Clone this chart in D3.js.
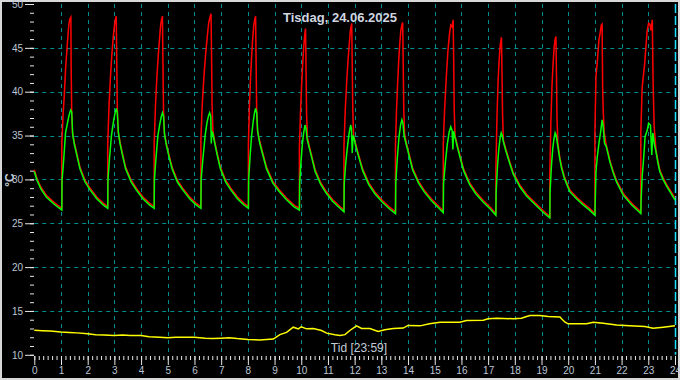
<!DOCTYPE html>
<html><head><meta charset="utf-8">
<script src="https://cdn.jsdelivr.net/npm/d3@7"></script>
<style>html,body{margin:0;padding:0;background:#000;}svg{display:block;}</style>
</head><body>
<svg id="c" width="680" height="380"></svg>
<script>
const titleText = "Tisdag, 24.06.2025";
const xLabel = "Tid [23:59]";
const yLabel = "°C";
const xTicks = d3.range(0, 25);
const yMajor = [10, 15, 20, 25, 30, 35, 40, 45, 50];

// Red series [hour, °C]
const redSeries = [
[0,31.1],[0.1,30.1],[0.25,29.1],[0.45,28.2],[0.7,27.5],[0.9,27.0],[1.03,26.7],
[1.03,34.1],[1.08,37.5],[1.12,39.4],[1.17,42.5],[1.22,44.7],[1.27,46.8],[1.3,47.8],[1.33,48.3],[1.37,48.5],[1.38,43.0],[1.4,37.9],[1.43,35.3],
[1.5,34.2],[1.59,33.0],[1.71,31.4],[1.9,29.9],[2.09,29.0],[2.34,28.0],[2.58,27.3],[2.75,26.9],
[2.75,34.0],[2.8,38.5],[2.85,41.5],[2.9,44.0],[2.95,46.0],[3.0,47.5],[3.04,48.3],[3.07,48.6],[3.09,43.0],[3.11,38.0],[3.14,35.5],
[3.21,34.3],[3.3,33.0],[3.42,31.4],[3.63,29.9],[3.82,29.0],[4.07,28.0],[4.31,27.3],[4.49,26.9],
[4.49,34.0],[4.54,38.5],[4.59,41.5],[4.64,44.0],[4.69,46.0],[4.73,47.5],[4.77,48.3],[4.8,48.6],[4.82,43.0],[4.84,38.0],[4.87,35.3],
[4.94,34.2],[5.03,33.0],[5.16,31.4],[5.36,29.9],[5.56,29.0],[5.82,28.0],[6.06,27.3],[6.24,26.9],
[6.24,34.5],[6.29,38.5],[6.35,41.5],[6.41,44.0],[6.47,46.0],[6.53,47.8],[6.58,48.5],[6.62,48.9],[6.64,44.0],[6.66,38.5],[6.69,35.5],
[6.76,34.3],[6.85,33.0],[6.97,31.4],[7.17,29.9],[7.36,29.0],[7.61,28.0],[7.85,27.3],[8.02,26.9],
[8.02,34.0],[8.06,38.5],[8.1,41.5],[8.14,44.0],[8.18,46.0],[8.22,47.5],[8.26,48.3],[8.29,48.6],[8.31,43.0],[8.33,38.0],[8.36,35.6],
[8.44,34.4],[8.55,33.1],[8.7,31.4],[8.93,29.8],[9.15,28.9],[9.44,27.9],[9.72,27.1],[9.93,26.7],
[9.93,33.5],[9.97,37.5],[10.01,40.5],[10.05,43.0],[10.09,45.0],[10.13,46.5],[10.16,47.2],[10.18,42.5],[10.2,37.5],[10.23,34.8],
[10.3,33.8],[10.4,32.6],[10.52,31.1],[10.72,29.7],[10.92,28.7],[11.17,27.7],[11.42,27.0],[11.6,26.5],
[11.6,33.8],[11.65,38.0],[11.7,41.0],[11.75,43.5],[11.8,45.5],[11.84,47.0],[11.89,47.8],[11.91,43.0],[11.93,38.0],[11.96,35.0],
[12.04,34.0],[12.15,32.8],[12.3,31.2],[12.53,29.6],[12.75,28.6],[13.04,27.6],[13.32,26.8],[13.53,26.3],
[13.53,34.0],[13.57,38.0],[13.61,41.0],[13.65,43.5],[13.69,45.5],[13.73,47.0],[13.77,47.6],[13.8,47.9],[13.82,43.0],[13.84,38.0],[13.87,35.2],
[13.94,34.1],[14.04,32.9],[14.17,31.3],[14.39,29.8],[14.6,28.8],[14.87,27.8],[15.13,27.0],[15.32,26.4],
[15.32,34.0],[15.37,38.0],[15.43,41.5],[15.49,44.5],[15.55,46.5],[15.6,47.6],[15.65,47.4],[15.69,48.2],[15.71,43.5],[15.73,38.0],[15.76,35.0],
[15.84,34.0],[15.94,32.8],[16.08,31.2],[16.31,29.6],[16.53,28.6],[16.82,27.6],[17.09,26.8],[17.29,26.1],
[17.29,31.0],[17.33,37.0],[17.37,41.0],[17.41,43.5],[17.45,45.3],[17.5,46.2],[17.52,42.0],[17.54,37.5],[17.57,34.5],
[17.66,33.5],[17.78,32.3],[17.94,30.8],[18.2,29.3],[18.44,28.3],[18.77,27.3],[19.08,26.4],[19.31,25.75],
[19.31,30.5],[19.35,36.5],[19.39,40.5],[19.43,43.0],[19.47,45.0],[19.51,46.0],[19.54,46.3],[19.56,42.0],[19.58,37.0],[19.61,34.2],
[19.68,32.6],[19.75,31.5],[19.85,30.4],[19.95,29.6],[20.06,28.8],[20.31,28.0],[20.56,27.3],[20.8,26.7],[21.0,26.1],
[21.0,35.4],[21.04,41.7],[21.1,43.8],[21.15,45.9],[21.19,46.6],[21.24,47.6],[21.27,47.7],[21.29,40.4],[21.31,37.9],[21.35,35.3],
[21.42,34.0],[21.5,33.0],[21.56,32.2],[21.68,31.0],[21.81,29.9],[22.06,28.4],[22.37,27.3],[22.72,26.3],
[22.72,35.4],[22.77,40.5],[22.87,43.4],[22.91,45.1],[22.96,47.0],[23.01,47.8],[23.06,47.7],[23.1,47.0],[23.15,48.2],[23.18,40.9],[23.22,36.0],[23.29,33.3],
[23.36,32.1],[23.43,31.1],[23.55,30.2],[23.69,29.4],[23.85,28.6],[24,27.85]
];

// Green series [hour, °C]
const greenSeries = [
[0,30.9],[0.1,29.9],[0.25,28.9],[0.45,28.0],[0.7,27.3],[0.9,26.8],[1.03,26.5],
[1.04,29.9],[1.1,32.2],[1.17,35.3],[1.24,36.4],[1.3,37.3],[1.36,37.9],[1.4,37.7],[1.44,35.1],
[1.5,34.0],[1.59,32.8],[1.71,31.2],[1.9,29.7],[2.09,28.8],[2.34,27.8],[2.58,27.1],[2.75,26.7],
[2.76,30.0],[2.82,32.5],[2.89,35.0],[2.96,36.5],[3.02,37.5],[3.07,38.1],[3.11,37.6],[3.15,35.3],
[3.21,34.1],[3.3,32.8],[3.42,31.2],[3.63,29.7],[3.82,28.8],[4.07,27.8],[4.31,27.1],[4.49,26.7],
[4.5,30.0],[4.56,32.5],[4.63,35.0],[4.7,36.3],[4.76,37.2],[4.8,37.6],[4.84,37.2],[4.88,35.1],
[4.94,34.0],[5.03,32.8],[5.16,31.2],[5.36,29.7],[5.56,28.8],[5.82,27.8],[6.06,27.1],[6.24,26.7],
[6.25,30.0],[6.32,32.5],[6.4,35.0],[6.47,36.5],[6.53,37.3],[6.57,37.6],[6.61,37.2],[6.63,34.1],[6.65,35.5],[6.69,35.2],
[6.76,34.1],[6.85,32.8],[6.97,31.2],[7.17,29.7],[7.36,28.8],[7.61,27.8],[7.85,27.1],[8.02,26.7],
[8.03,30.0],[8.08,32.5],[8.14,35.0],[8.2,36.6],[8.25,37.6],[8.29,38.1],[8.33,37.6],[8.37,35.4],
[8.44,34.2],[8.55,32.9],[8.7,31.2],[8.93,29.6],[9.15,28.7],[9.44,27.7],[9.72,26.9],[9.93,26.5],
[9.94,29.5],[9.99,32.0],[10.04,34.0],[10.09,35.3],[10.14,36.2],[10.18,35.8],[10.22,34.6],
[10.3,33.6],[10.4,32.4],[10.52,30.9],[10.72,29.5],[10.92,28.5],[11.17,27.5],[11.42,26.8],[11.6,26.3],
[11.61,29.5],[11.67,32.0],[11.74,34.0],[11.8,35.4],[11.85,36.2],[11.88,35.8],[11.91,33.0],[11.94,35.0],[11.97,34.8],
[12.04,33.8],[12.15,32.6],[12.3,31.0],[12.53,29.4],[12.75,28.4],[13.04,27.4],[13.32,26.6],[13.53,26.1],
[13.54,29.5],[13.6,32.5],[13.66,34.8],[13.72,36.2],[13.77,36.8],[13.81,36.4],[13.85,35.0],
[13.94,33.9],[14.04,32.7],[14.17,31.1],[14.39,29.6],[14.6,28.6],[14.87,27.6],[15.13,26.8],[15.32,26.2],
[15.33,29.5],[15.4,32.0],[15.47,34.0],[15.54,35.4],[15.6,36.0],[15.65,35.6],[15.68,33.4],[15.71,35.5],[15.76,34.8],
[15.84,33.8],[15.94,32.6],[16.08,31.0],[16.31,29.4],[16.53,28.4],[16.82,27.4],[17.09,26.6],[17.29,25.9],
[17.3,28.5],[17.35,31.5],[17.4,33.5],[17.45,34.7],[17.49,35.3],[17.53,35.0],[17.57,34.3],
[17.66,33.3],[17.78,32.1],[17.94,30.6],[18.2,29.1],[18.44,28.1],[18.77,27.1],[19.08,26.2],[19.31,25.6],
[19.32,28.5],[19.37,31.5],[19.42,33.5],[19.47,34.7],[19.51,35.3],[19.55,35.0],[19.6,34.0],
[19.68,32.4],[19.75,31.3],[19.85,30.2],[19.95,29.4],[20.06,28.6],[20.31,27.8],[20.56,27.1],[20.8,26.5],[21.0,25.9],
[21.04,30.9],[21.09,32.6],[21.15,34.1],[21.21,35.3],[21.27,36.8],[21.31,36.0],[21.36,34.1],
[21.42,33.8],[21.5,32.8],[21.56,32.0],[21.68,30.8],[21.81,29.7],[22.06,28.2],[22.37,27.1],[22.72,26.1],
[22.73,27.6],[22.77,30.3],[22.83,32.6],[22.88,34.9],[22.96,35.6],[23.01,36.4],[23.08,36.2],[23.13,32.8],[23.17,35.3],[23.23,34.0],[23.29,33.1],
[23.36,31.9],[23.43,30.9],[23.55,30.0],[23.69,29.2],[23.85,28.4],[24,27.65]
];

// Yellow series [hour, °C]
const yellowSeries = [
[0,12.8],[0.3,12.75],[0.6,12.7],[1.0,12.6],[1.3,12.55],[1.6,12.5],[2.0,12.4],[2.3,12.3],[2.6,12.25],[3.0,12.2],[3.3,12.25],[3.6,12.2],
[4.0,12.2],[4.3,12.05],[4.7,12.0],[5.0,11.95],[5.3,12.0],[5.6,12.0],[6.0,12.0],[6.4,11.9],[6.7,11.85],[7.0,11.9],[7.3,11.95],[7.6,11.85],
[8.0,11.75],[8.45,11.7],[8.95,11.8],[9.2,12.3],[9.45,12.55],[9.7,13.15],[9.89,12.96],[10.0,13.2],[10.2,12.96],[10.45,13.0],
[10.76,12.77],[10.95,12.47],[11.26,12.28],[11.45,12.2],[11.64,12.3],[11.82,12.77],[12.07,13.3],[12.26,13.0],[12.57,13.0],
[12.88,12.65],[13.13,12.85],[13.45,13.0],[13.82,13.05],[14.0,13.35],[14.45,13.3],[14.8,13.55],[15.2,13.7],[15.6,13.7],
[15.94,13.72],[16.19,13.9],[16.82,13.95],[17.0,14.1],[17.32,14.18],[17.94,14.1],[18.25,14.18],[18.44,14.36],[18.57,14.48],
[18.94,14.48],[19.25,14.36],[19.69,14.3],[19.75,14.1],[19.88,13.72],[20.0,13.53],[20.69,13.53],[20.94,13.72],[21.31,13.6],
[21.81,13.4],[22.3,13.3],[22.87,13.22],[23.18,13.04],[23.56,13.15],[24,13.3]
];

const W = 680, H = 380;
const svg = d3.select("#c");
const x = d3.scaleLinear().domain([0, 24]).range([34.3, 675]);
const y = d3.scaleLinear().domain([10, 50]).range([354.8, 4]);

svg.append("rect").attr("x",0).attr("y",0).attr("width",W).attr("height",H).attr("fill","#000");
svg.append("rect").attr("x",1).attr("y",1).attr("width",W-2).attr("height",H-2)
  .attr("fill","none").attr("stroke","#d8d8d8").attr("stroke-width",2);

const gridColor = "#008c8c";
// horizontal grid
svg.append("g").selectAll("line").data(yMajor.filter(v => v > 10 && v < 50)).join("line")
  .attr("x1", x(0)).attr("x2", x(24))
  .attr("y1", d => Math.round(y(d)) + 0.5).attr("y2", d => Math.round(y(d)) + 0.5)
  .attr("stroke", gridColor).attr("stroke-width", 1).attr("stroke-dasharray", "4,4");
// vertical grid
svg.append("g").selectAll("line").data(xTicks.filter(v => v > 0 && v < 24)).join("line")
  .attr("x1", d => Math.round(x(d)) + 0.5).attr("x2", d => Math.round(x(d)) + 0.5)
  .attr("y1", 4).attr("y2", y(10))
  .attr("stroke", gridColor).attr("stroke-width", 1).attr("stroke-dasharray", "4,4");
// current time marker
svg.append("line").attr("x1", Math.round(x(24)) + 0.5).attr("x2", Math.round(x(24)) + 0.5)
  .attr("y1", 4).attr("y2", y(10))
  .attr("stroke", "#20e0ff").attr("stroke-width", 1.5).attr("stroke-dasharray", "9,3");

// Y axis: ticks without domain
const yAxisMinor = d3.axisLeft(y).tickValues(d3.range(10, 51, 1)).tickSize(4).tickFormat("");
const gyMin = svg.append("g").attr("transform", "translate(34,0)").call(yAxisMinor);
const yAxisMajor = d3.axisLeft(y).tickValues(yMajor).tickSize(9).tickPadding(2).tickFormat(d3.format("d"));
const gy = svg.append("g").attr("transform", "translate(34,0)").call(yAxisMajor);
[gyMin, gy].forEach(g => {
  g.select(".domain").remove();
  g.selectAll(".tick line").attr("stroke", "#e8e8e8").attr("stroke-width", 1);
});
gy.selectAll(".tick text").attr("fill", "#bcc6d6").attr("font-family", "Liberation Sans, Arial, sans-serif").attr("font-size", 10);

// X axis
const xAxisMinor = d3.axisBottom(x).tickValues(d3.range(0, 24 * 6 + 1).map(i => i / 6)).tickSize(4).tickFormat("");
const gxMin = svg.append("g").attr("transform", "translate(0,356)").call(xAxisMinor);
const xAxisMajor = d3.axisBottom(x).tickValues(xTicks).tickSize(9).tickPadding(2).tickFormat(d3.format("d"));
const gx = svg.append("g").attr("transform", "translate(0,356)").call(xAxisMajor);
[gxMin, gx].forEach(g => {
  g.select(".domain").remove();
  g.selectAll(".tick line").attr("stroke", "#e8e8e8").attr("stroke-width", 1);
});
gx.selectAll(".tick text").attr("fill", "#bcc6d6").attr("font-family", "Liberation Sans, Arial, sans-serif").attr("font-size", 10);

// Lines
const line = d3.line().x(d => x(d[0])).y(d => y(d[1]));
svg.append("path").datum(yellowSeries).attr("d", line).attr("fill", "none").attr("stroke", "#ffff00").attr("stroke-width", 1.5);
svg.append("path").datum(redSeries).attr("d", line).attr("fill", "none").attr("stroke", "#ff0000").attr("stroke-width", 1.5);
svg.append("path").datum(greenSeries).attr("d", line).attr("fill", "none").attr("stroke", "#00ff00").attr("stroke-width", 1.5);

// Texts
svg.append("text").attr("x", 340).attr("y", 22).attr("text-anchor", "middle")
  .attr("fill", "#d0d6e0").attr("font-family", "Liberation Sans, Arial, sans-serif")
  .attr("font-size", 13).attr("font-weight", "bold").text(titleText);
svg.append("text").attr("x", 359).attr("y", 352).attr("text-anchor", "middle")
  .attr("fill", "#c4ccd8").attr("font-family", "Liberation Sans, Arial, sans-serif")
  .attr("font-size", 12).text(xLabel);
svg.append("text").attr("transform", "translate(14,180) rotate(-90)").attr("text-anchor", "middle")
  .attr("fill", "#c4ccd8").attr("font-family", "Liberation Sans, Arial, sans-serif")
  .attr("font-size", 12).attr("font-weight", "bold").text(yLabel);
</script>
</body></html>
